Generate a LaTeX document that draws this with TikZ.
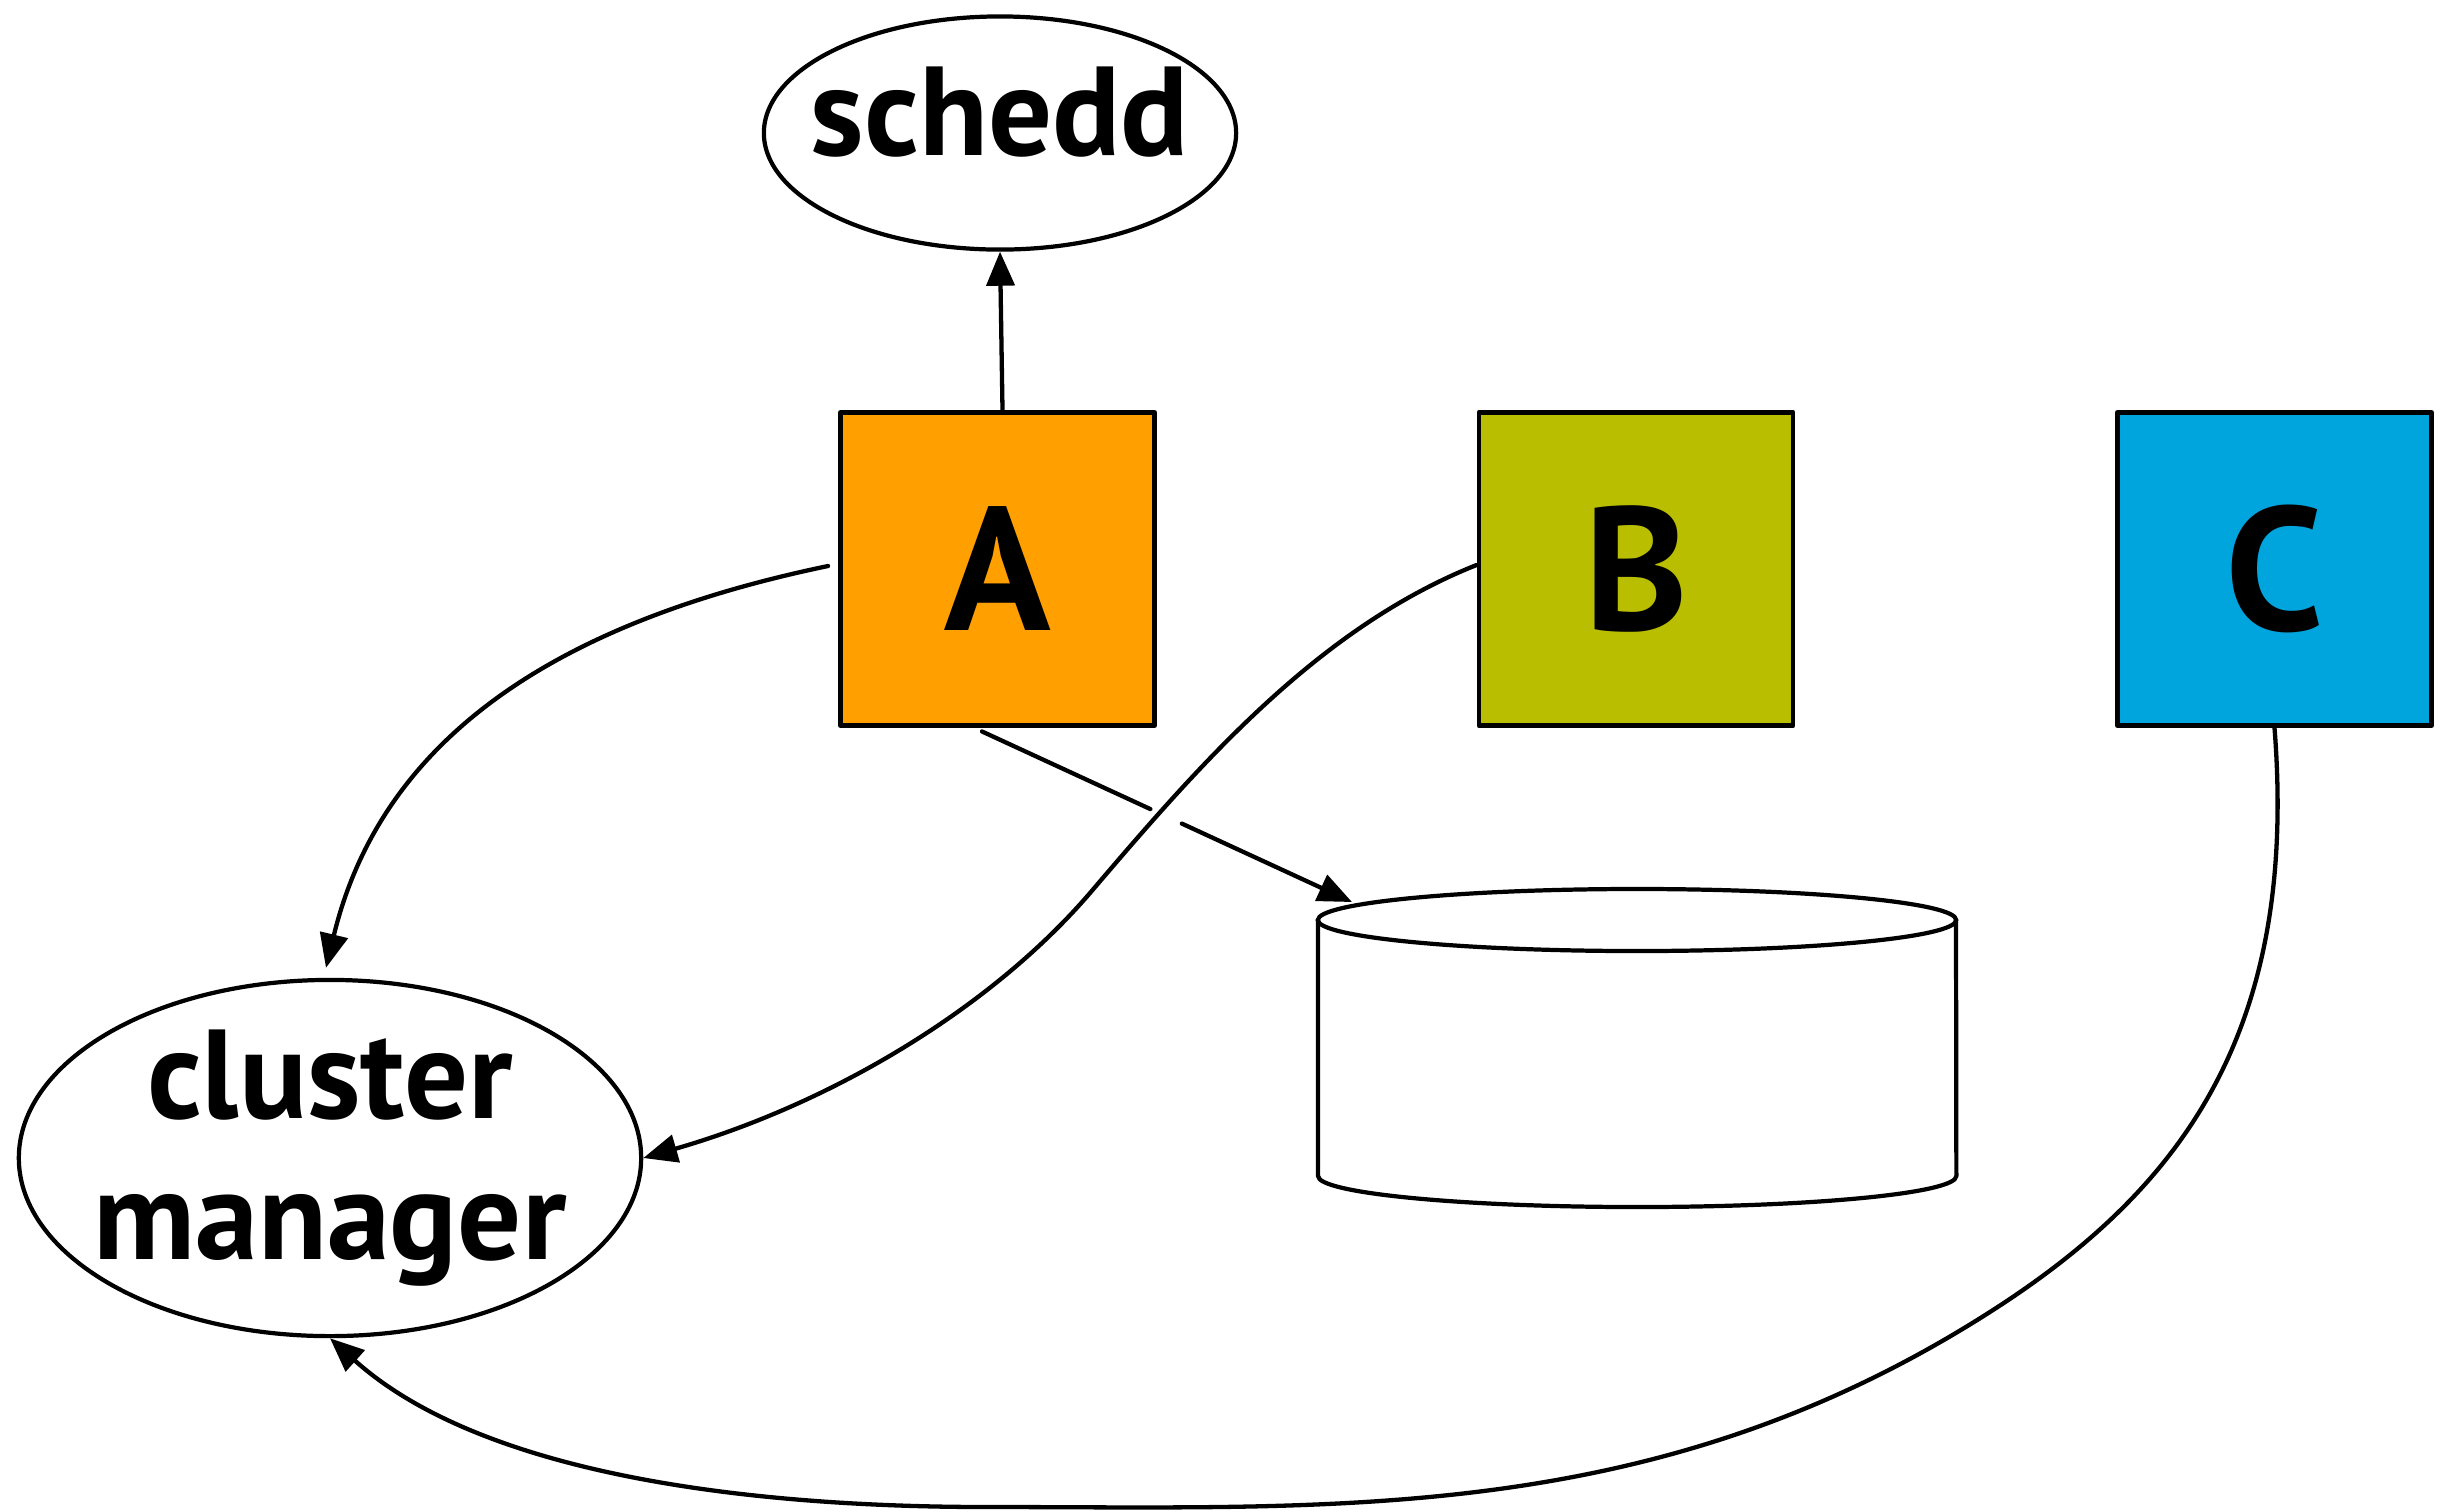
\documentclass[tikz,border=0pt]{standalone}
\usepackage{fontspec}
\setmainfont{PT Sans}
\usetikzlibrary{arrows.meta,shapes.geometric,calc}
\definecolor{colA}{RGB}{255,160,0}
\definecolor{colB}{RGB}{186,190,0}
\definecolor{colC}{RGB}{0,165,222}
\begin{document}
\begin{tikzpicture}[x=0.01cm,y=-0.01cm,
  conn/.style={line width=1.22pt, line cap=round, -{Triangle[length=0.34cm,width=0.28cm]}},
  plain/.style={line width=1.22pt, line cap=round},
  proc/.style={draw, line width=1.34pt, line join=round, minimum width=3.14cm, minimum height=3.13cm, inner sep=0pt, font=\fontsize{50}{60}\selectfont\bfseries},
  oval/.style={draw, ellipse, line width=1.2pt, inner xsep=-3cm, inner ysep=-1.5cm, font=\fontsize{36}{40}\selectfont\bfseries, align=center}
]
\useasboundingbox (0,0) rectangle (2442,1511);

% nodes
\node[oval, minimum width=4.72cm, minimum height=2.33cm, text height=0.83cm, text depth=0.39cm] (schedd) at (1000,133) {schedd};
\node[oval, minimum width=6.22cm, minimum height=3.56cm] (cm) at (330,1158) {cluster\\manager};
\node[proc, fill=colA] (A) at (997.5,569) {A};
\node[proc, fill=colB] (B) at (1636,569) {B};
\node[proc, fill=colC] (C) at (2274.5,569) {C};

% cylinder (disk)
\draw[line width=1.2pt, line join=round]
  (1318,920) -- (1318,1176) arc[start angle=180, end angle=360, x radius=3.19cm, y radius=0.31cm] -- (1956,920);
\draw[line width=1.2pt] (1637,920) ellipse [x radius=3.19cm, y radius=0.31cm];
\coordinate (dbtop) at (1352,902);

% A -> schedd
\draw[conn] ([xshift=0.05cm]A.north) -- (schedd.south);

% A -> cluster manager
\draw[conn] ([shift={(-0.1cm,0.03cm)}]A.west) .. controls (573,619) and (384,728) .. ([shift={(-0.04cm,0.10cm)}]cm.north);

% A -> disk (broken where B's edge crosses)
\coordinate (a0) at ([xshift=-0.155cm,yshift=-0.035cm]A.south);
\draw[plain] (a0) -- ($(a0)!0.455!(dbtop)$);
\draw[conn] ($(a0)!0.54!(dbtop)$) -- (dbtop);

% B -> cluster manager
\draw[conn] ([yshift=0.04cm]B.west) .. controls (1318,628) and (1200,764) .. (1090,893)
  .. controls (992,1007) and (834,1103) .. (cm.east);

% C -> cluster manager
\draw[conn] (C.south) .. controls (2298,1027) and (2186,1186) .. (1993,1310)
  .. controls (1657,1526) and (1337,1507) .. (987,1507)
  .. controls (737,1507) and (479,1472) .. (cm.south);
\end{tikzpicture}
\end{document}
